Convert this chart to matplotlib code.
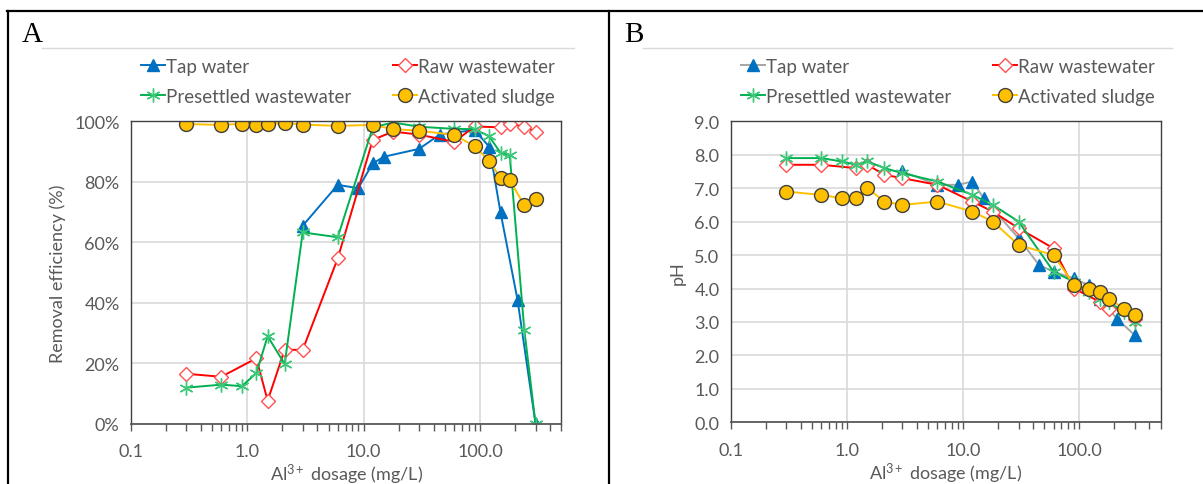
import numpy as np
import matplotlib
matplotlib.use("Agg")
import matplotlib.pyplot as plt
from matplotlib.lines import Line2D
from matplotlib.ticker import FixedLocator, FixedFormatter, LogLocator, NullFormatter

plt.rcParams['font.family'] = ['Lato', 'DejaVu Sans']
plt.rcParams['mathtext.fontset'] = 'custom'
plt.rcParams['mathtext.rm'] = 'Lato'
plt.rcParams['mathtext.it'] = 'Lato:italic'

# Data
tap_x = [3, 6, 9, 12, 15, 30, 45, 60, 90, 120, 150, 210, 300]
tap_rem = [65.5, 79.0, 77.9, 86.1, 88.3, 90.9, 95.6, 96.3, 97.1, 91.6, 69.9, 41.0, 0.0]
tap_ph = [7.5, 7.1, 7.1, 7.2, 6.7, 5.5, 4.7, 4.5, 4.3, 4.1, 3.7, 3.1, 2.6]

raw_x = [0.3, 0.6, 1.2, 1.5, 2.1, 3, 6, 12, 18, 30, 60, 90, 150, 180, 240, 300]
raw_rem = [16.6, 15.6, 21.7, 7.7, 24.5, 24.5, 54.7, 93.9, 96.6, 95.6, 93.2, 98.3, 98.0, 99.2, 98.2, 96.6]
raw_ph = [7.7, 7.7, 7.6, 7.7, 7.4, 7.3, 7.1, 6.6, 6.3, 5.8, 5.2, 4.0, 3.6, 3.4, 3.4, 3.1]

pre_x = [0.3, 0.6, 0.9, 1.2, 1.5, 2.1, 3, 6, 12, 18, 30, 60, 90, 120, 150, 180, 240, 300]
pre_rem = [12.0, 13.0, 12.5, 16.8, 29.0, 19.8, 63.3, 61.7, 98.0, 99.6, 98.2, 97.5, 97.4, 95.0, 89.6, 88.8, 31.2, 0.0]
pre_ph = [7.9, 7.9, 7.8, 7.7, 7.8, 7.6, 7.45, 7.2, 6.8, 6.5, 6.0, 4.5, 4.2, 3.9, 3.7, 3.6, 3.3, 3.0]

act_x = [0.3, 0.6, 0.9, 1.2, 1.5, 2.1, 3, 6, 12, 18, 30, 60, 90, 120, 150, 180, 240, 300]
act_rem = [99.1, 98.8, 99.2, 98.9, 99.1, 99.5, 98.9, 98.5, 98.8, 97.4, 96.9, 95.5, 91.8, 86.9, 81.3, 80.6, 72.3, 74.2]
act_ph = [6.9, 6.8, 6.7, 6.7, 7.0, 6.6, 6.5, 6.6, 6.3, 6.0, 5.3, 5.0, 4.1, 4.0, 3.9, 3.7, 3.4, 3.2]

labels = ['Tap water', 'Raw wastewater', 'Presettled wastewater', 'Activated sludge']

blue = '#0070C0'
red = '#FF0000'
green = '#00B050'
gold = '#FFC000'
txt = '#595959'
fs = 13

W, H = 1203, 485
fig = plt.figure(figsize=(W / 100, H / 100), dpi=100)


def px_axes(left, right, top, bottom):
    return fig.add_axes([left / W, 1 - bottom / H, (right - left) / W, (bottom - top) / H])


def style_axes(ax, yticks, ylabels, ylabel):
    ax.set_xscale('log')
    ax.set_xlim(0.1, 500)
    ax.set_ylim(yticks[0], yticks[-1])
    ax.xaxis.set_major_locator(FixedLocator([0.1, 1, 10, 100]))
    ax.xaxis.set_major_formatter(FixedFormatter(['0.1', '1.0', '10.0', '100.0']))
    ax.xaxis.set_minor_locator(LogLocator(base=10, subs=np.arange(2, 10)))
    ax.xaxis.set_minor_formatter(NullFormatter())
    ax.set_yticks(yticks)
    ax.set_yticklabels(ylabels)
    ax.tick_params(axis='x', which='both', direction='out', length=5, width=1, color='#595959',
                   labelsize=fs, labelcolor=txt, pad=9)
    ax.tick_params(axis='y', length=0, labelsize=fs, labelcolor=txt, pad=8)
    ax.grid(True, which='major', color='#D9D9D9', linewidth=1.2)
    ax.set_axisbelow(True)
    for s in ['top', 'right', 'left']:
        ax.spines[s].set_color('#404040')
        ax.spines[s].set_linewidth(1.0)
    ax.spines['bottom'].set_color('#595959')
    ax.spines['bottom'].set_linewidth(1.3)
    ax.set_xlabel(r'Al$^{\mathregular{3+}}$ dosage (mg/L)', fontsize=fs, color=txt, labelpad=2)
    ax.set_ylabel(ylabel, fontsize=fs, color=txt, labelpad=6)


def draw_series(ax, tap_y, raw_y, pre_y, act_y, tap_line):
    h1, = ax.plot(tap_x, tap_y, color=tap_line, lw=1.4, marker='^', ms=8.5,
                  mfc=blue, mec=blue, label=labels[0])
    h2, = ax.plot(raw_x, raw_y, color=red, lw=1.4, marker='D', ms=7,
                  mfc='white', mec='#FF5050', mew=1.0, label=labels[1])
    h3, = ax.plot(pre_x, pre_y, color=green, lw=1.4, marker=(6, 2, 0), ms=10,
                  mec='#3CC878', mew=1.0, label=labels[2])
    h4, = ax.plot(act_x, act_y, color=gold, lw=1.4, marker='o', ms=10,
                  mfc=gold, mec='#404040', mew=1.0, label=labels[3])
    return [h1, h3, h2, h4]


def add_legend(handles, x0, y0):
    fig.legend(handles=handles, labels=[h.get_label() for h in handles], ncol=2,
               loc='upper left', bbox_to_anchor=(x0 / W, 1 - y0 / H), frameon=False,
               fontsize=13.5, labelcolor=txt, handlelength=1.3, handletextpad=0.05,
               columnspacing=2.2, labelspacing=0.68, borderpad=0, borderaxespad=0)


# Panel A
axA = px_axes(130.7, 561.4, 122.3, 425.0)
style_axes(axA, [0, 20, 40, 60, 80, 100], ['0%', '20%', '40%', '60%', '80%', '100%'],
           'Removal efficiency (%)')
hA = draw_series(axA, tap_rem, raw_rem, pre_rem, act_rem, blue)
add_legend(hA, 141, 59)

# Panel B
axB = px_axes(730.7, 1160.7, 122.3, 423.3)
style_axes(axB, list(np.arange(0, 10)), ['%.1f' % v for v in range(10)], 'pH')
hB = draw_series(axB, tap_ph, raw_ph, pre_ph, act_ph, '#A5A5A5')
add_legend(hB, 741, 59)

# panel letters
fig.text(22 / W, 1 - 42 / H, 'A', family='Liberation Serif', fontsize=21, color='black')
fig.text(624 / W, 1 - 42 / H, 'B', family='Liberation Serif', fontsize=21, color='black')

# chart area top lines
fig.add_artist(Line2D([42 / W, 574 / W], [1 - 49 / H] * 2, color='#D9D9D9', lw=1))
fig.add_artist(Line2D([643 / W, 1172 / W], [1 - 49 / H] * 2, color='#D9D9D9', lw=1))

# table borders
fig.add_artist(Line2D([7 / W, 1], [1 - 12 / H] * 2, color='black', lw=1.6))
fig.add_artist(Line2D([8 / W, 8 / W], [0, 1 - 12 / H], color='black', lw=1.6))
fig.add_artist(Line2D([609 / W, 609 / W], [0, 1 - 12 / H], color='black', lw=1.6))

fig.savefig('out.png', dpi=100)
